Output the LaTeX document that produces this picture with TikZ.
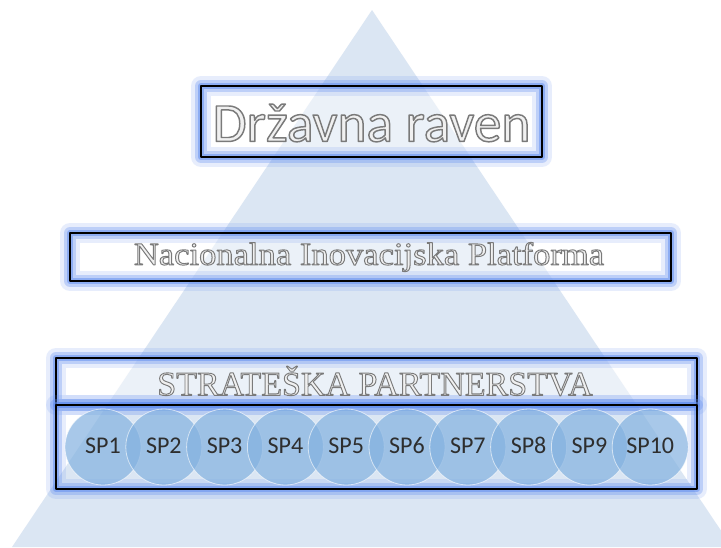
\documentclass[tikz,border=0pt]{standalone}
\usepackage{fontspec}
\setmainfont{Liberation Serif}
\newfontfamily\sansc{Carlito}
\usetikzlibrary{positioning}
\definecolor{trikotnik}{RGB}{219,230,243}
\definecolor{sij}{RGB}{95,140,240}
\definecolor{krog}{RGB}{132,178,224}
% obrobljen napis (siva obroba, svetlo polnilo)
\newcommand\obroba[2][0.6]{\special{pdf:literal direct 2 Tr #1 w 0.48 0.48 0.48 RG}#2\special{pdf:literal direct 0 Tr 0.4 w}}
\tikzset{
	okvir/.style={draw=black, line width=1.8pt,
		preaction={draw=sij, draw opacity=.15, line width=15pt},
		preaction={draw=sij, draw opacity=.3, line width=9pt},
		preaction={draw=sij, draw opacity=.5, line width=4.5pt}},
	polnilo/.style={fill=white, fill opacity=.45},
	sp/.style={circle, minimum size=57pt, inner sep=0pt, fill=krog, fill opacity=.7,
		draw=white, draw opacity=.6, line width=.6pt, text opacity=1, text=black!82,
		text height=9pt, text depth=0pt, font=\sansc\fontsize{18}{22}\selectfont},
	napis/.style={text=black!6, inner sep=0pt}
}
\begin{document}
\begin{tikzpicture}[x=0.75pt, y=-0.75pt, line join=round]
	\fill[white] (0,0) rectangle (721,547); % ozadje
	\clip (0,0) rectangle (721,547);
	\fill[trikotnik] (372,10) -- (732,547) -- (12,547) -- cycle; % piramida
	% okvirji
	\fill[polnilo] (201,86) rectangle (542,157);
	\draw[okvir] (201,86) rectangle (542,157);
	\fill[polnilo] (70,233) rectangle (671,281);
	\draw[okvir] (70,233) rectangle (671,281);
	\fill[polnilo] (56,358) rectangle (697,405);
	\draw[okvir] (56,358) rectangle (697,405);
	\draw[okvir] (56,405) rectangle (697,489);
	% napisi
	\node[napis] (drzava) at (371.5,123) {\sansc\fontsize{41.5}{48}\selectfont\obroba[1.1]{Državna raven}};
	\node[napis] (nip) at (369,257) {\fontsize{24}{28}\selectfont\scalebox{1.08}[1]{\obroba[0.7]{Nacionalna Inovacijska Platforma}}};
	\node[napis] (sp) at (375,381) {\fontsize{25.5}{30}\selectfont\obroba[0.7]{STRATEŠKA PARTNERSTVA}};
	% strateska partnerstva
	\foreach \i in {1,...,10}
	\node[sp] (sp\i) at ({103+60.8*(\i-1)},447) {SP\i};
\end{tikzpicture}
\end{document}
